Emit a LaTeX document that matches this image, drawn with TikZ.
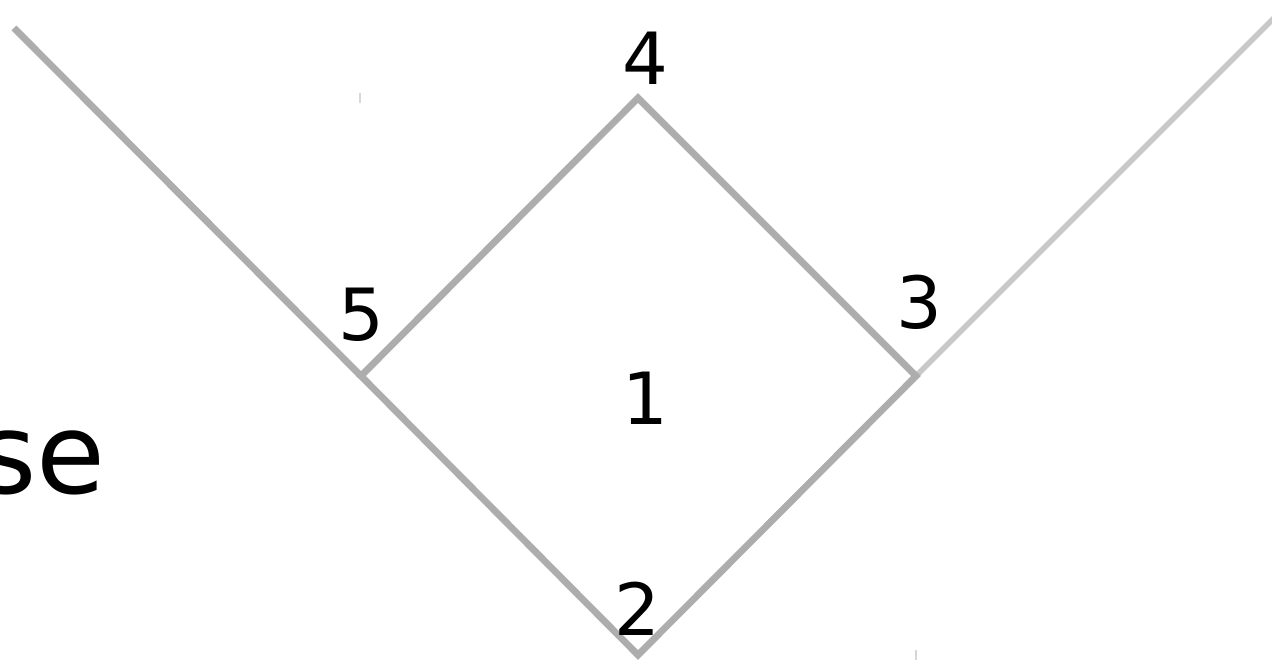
\documentclass[tikz,border=0pt]{standalone}
\usepackage{fontspec}
\setmainfont{DejaVu Sans}
\usepackage{xcolor}
\usetikzlibrary{positioning}
\definecolor{lineColor}{RGB}{173,173,173}
\definecolor{foulColor}{RGB}{200,200,200}
\definecolor{tickColor}{RGB}{215,215,215}

\begin{document}
\begin{tikzpicture}[
    x=0.5pt, y=-0.5pt,
    baseline/.style={draw=lineColor, line width=3.4pt},
    foul/.style={draw=foulColor, line width=2.8pt},
    tickmark/.style={draw=tickColor, line width=1pt},
    num/.style={inner sep=0pt, font=\fontsize{36}{36}\selectfont},
    word/.style={inner sep=0pt, font=\fontsize{56}{56}\selectfont}
]
    \useasboundingbox (0,0) rectangle (1272,662);

    % Bases
    \coordinate (home) at (638,655);
    \coordinate (first) at (916,376);
    \coordinate (second) at (638,98);
    \coordinate (third) at (361,376);
    \coordinate (leftend) at (14,28);
    \coordinate (rightend) at (1275,17);

    % Lines
    \draw[baseline] (leftend) -- (third);
    \draw[foul] (first) -- (rightend);
    \draw[baseline] (third) -- (second) -- (first) -- (home) -- cycle;

    % Small marks
    \coordinate (tickA) at (360,93);
    \coordinate (tickB) at (916,650);
    \draw[tickmark] (tickA) -- ++(0,10);
    \draw[tickmark] (tickB) -- ++(0,10);

    % Labels
    \node[num] (lbl1) at (645,398) {1};
    \node[num] (lbl2) at (637,609) {2};
    \node[num] (lbl3) at (919,302) {3};
    \node[num] (lbl4) at (645,58) {4};
    \node[num] (lbl5) at (361,315) {5};
    \node[word, anchor=base east] (side) at (106,493) {se};
\end{tikzpicture}
\end{document}
